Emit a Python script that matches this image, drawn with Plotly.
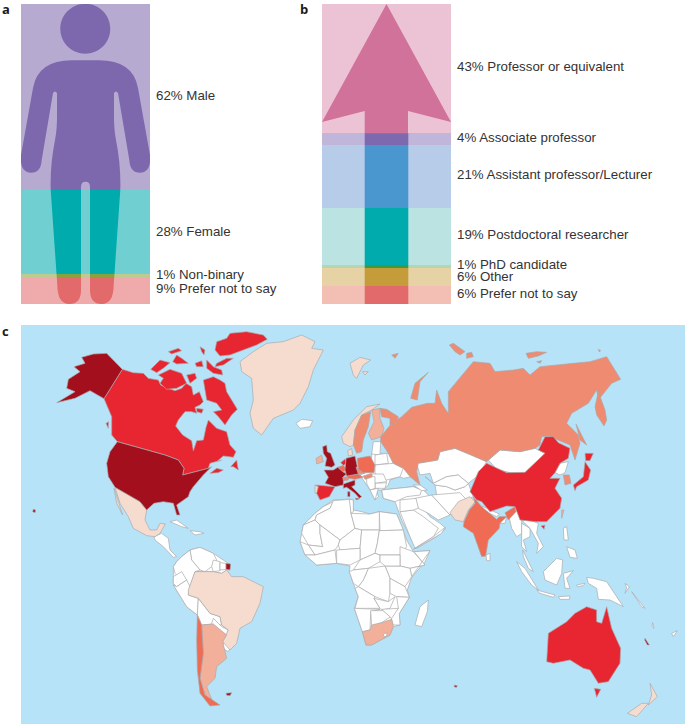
import plotly.graph_objects as go

W, H = 685, 724

# ---------- panel a / b data ----------
gender_labels = ["Male", "Female", "Non-binary", "Prefer not to say"]
gender_values = [62, 28, 1, 9]
gender_colors = ["#7D68AE", "#00ABAE", "#8AA23C", "#E26A6A"]
gender_label_y = [95, 231, 274.5, 288.5]

role_labels = ["Professor or equivalent", "Associate professor", "Assistant professor/Lecturer",
               "Postdoctoral researcher", "PhD candidate", "Other", "Prefer not to say"]
role_values = [43, 4, 21, 19, 1, 6, 6]
role_light = ["#ECC3D4", "#C0B6DA", "#B6CCE8", "#BAE3E1", "#B5D6B0", "#E6D2A4", "#F3BFB5"]
role_dark = ["#D1729B", "#7F69AE", "#4A96CF", "#00ABAE", "#3E9A3E", "#C49C3A", "#E26A6A"]
role_label_y = [66, 137, 174.5, 234.5, 264.5, 276, 293]

# ---------- panel c colours ----------
DARK, RED, ORANGE, SALMON, PEACH, PALE, BLANK = "#A30F1D", "#E82632", "#EF6B54", "#EF8B70", "#F2AF99", "#F6DCCF", "#FFFFFF"
SEA, BORDER = "#B7E3F9", "#ABABAB"

# outline blocks: each has its own origin in map units
WEST, EAST, EUR, AFR, CHN = (0, 0), (1020, 0), (900, 210), (900, 510), (1410, 300)

white_land = [
 # continental masses under the individual countries
 (AFR, [(100,30),(150,27),(160,30),(160,60),(185,65),(210,72),(238,65),(290,72),(305,110),(320,150),(340,185),(390,182),(375,215),(335,262),(322,300),(328,322),(298,370),(300,405),(280,410),(270,435),(215,465),(198,465),(187,425),(163,355),(175,320),(165,295),(160,280),(148,245),(150,228),(110,220),(50,225),(15,195),(0,155),(5,130),(10,105),(45,70),(70,50)]),
 (EAST, [(125,510),(165,505),(220,500),(250,510),(270,530),(290,525),(285,495),(320,500),(345,510),(375,500),(385,490),(400,530),(355,545),(330,578),(300,590),(270,575),(250,565),(270,590),(300,610),(318,625),(290,650),(230,685),(215,660),(185,600),(175,570),(165,545),(130,535)]),
 (EAST, [(95,400),(145,400),(160,430),(190,445),(215,470),(190,475),(180,470),(150,480),(145,495),(135,505),(125,510),(110,510),(115,530),(105,540),(90,510),(70,480),(60,465),(95,450)]),
 (WEST, [(545,710),(570,690),(600,682),(640,700),(692,735),(680,750),(665,760),(640,755),(615,755),(585,755),(565,810),(565,825),(595,835),(630,880),(660,890),(665,915),(685,930),(680,945),(640,912),(605,915),(592,885),(560,860),(520,795),(520,740),(530,725)]),
 (WEST, [(888,310),(905,298),(938,302),(930,320),(900,325)]),
 (WEST, [(462,650),(485,640),(505,655),(510,690),(530,710),(520,712),(490,680),(465,660)]),
 (WEST, [(510,605),(530,600),(565,625),(545,620)]),
 (WEST, [(570,632),(600,635),(612,640),(585,645)]),
 (WEST, [(570,690),(600,682),(640,700),(650,720),(635,740),(615,755),(600,750),(575,720)]),
 (WEST, [(640,720),(660,725),(660,752),(640,755),(635,740)]),
 (WEST, [(660,728),(678,730),(678,748),(660,750)]),
 (WEST, [(545,710),(570,690),(575,720),(600,750),(585,755),(570,800),(555,790),(525,760),(520,740),(530,725)]),
 (WEST, [(520,770),(545,755),(560,780),(530,800),(520,790)]),
 (WEST, [(520,795),(530,800),(560,780),(570,800),(565,825),(595,835),(592,885),(560,860)]),
 (WEST, [(595,835),(630,880),(660,890),(665,915),(640,912),(605,915),(592,885)]),
 (WEST, [(640,895),(665,920),(685,930),(680,945),(650,930),(635,910)]),
 (WEST, [(670,965),(695,975),(685,995),(668,985)]),
 # Africa
 (AFR, [(100,35),(70,50),(45,70),(10,105),(45,90),(50,75),(90,55)]),
 (AFR, [(100,32),(150,28),(153,70),(165,115),(120,150),(60,105),(45,90),(50,75),(90,55)]),
 (AFR, [(148,28),(160,30),(160,65),(153,70)]),
 (AFR, [(153,70),(210,72),(238,65),(238,120),(185,120),(165,115)]),
 (AFR, [(238,65),(290,72),(310,120),(240,122)]),
 (AFR, [(10,105),(45,90),(60,105),(60,130),(68,170),(25,165),(5,130)]),
 (AFR, [(60,105),(120,150),(115,165),(105,180),(45,195),(25,165),(68,170),(60,130)]),
 (AFR, [(0,155),(25,165),(45,195),(15,195)]),
 (AFR, [(120,150),(165,115),(185,120),(180,175),(120,180),(115,165)]),
 (AFR, [(185,120),(238,120),(232,160),(225,190),(180,210),(180,175)]),
 (AFR, [(238,122),(310,120),(320,170),(300,195),(240,195),(225,190),(232,160)]),
 (AFR, [(110,180),(180,175),(180,210),(150,225),(110,220)]),
 (AFR, [(45,195),(105,180),(110,220),(50,225),(15,195)]),
 (AFR, [(300,170),(340,185),(375,225),(330,235),(300,228),(300,195)]),
 (AFR, [(342,185),(390,182),(335,260),(330,235),(375,225)]),
 (AFR, [(300,228),(330,235),(335,260),(315,290),(270,265),(255,228)]),
 (AFR, [(180,210),(225,190),(240,195),(240,215),(205,235),(160,240)]),
 (AFR, [(240,195),(300,195),(300,228),(255,228),(240,215)]),
 (AFR, [(205,235),(255,228),(270,265),(270,310),(265,335),(225,320),(175,290),(190,270)]),
 (AFR, [(148,245),(160,240),(205,235),(190,270),(175,290),(160,280)]),
 (AFR, [(165,295),(175,290),(225,320),(222,325),(240,355),(165,355),(175,320)]),
 (AFR, [(222,325),(265,335),(285,320),(270,355),(245,360),(240,355)]),
 (AFR, [(270,265),(315,290),(328,322),(290,320),(270,310)]),
 (AFR, [(290,320),(328,322),(298,370),(300,405),(280,405),(272,380),(295,355)]),
 (AFR, [(163,355),(240,358),(212,365),(210,420),(187,425)]),
 (AFR, [(212,362),(250,362),(272,380),(245,398),(215,408)]),
 (AFR, [(245,358),(295,355),(275,385)]),
 # Middle East
 (AFR, [(300,65),(340,60),(370,80),(415,115),(400,140),(345,175),(330,140)]),
 (AFR, [(340,178),(400,140),(435,112),(425,130),(390,150)]),
 (AFR, [(345,25),(395,15),(450,75),(415,90),(385,70),(355,55)]),
 (AFR, [(395,15),(480,8),(498,28),(450,75)]),
 (AFR, [(300,30),(348,25),(355,55),(340,60),(300,65)]),
 # Eastern Europe and central Asia
 (EAST, [(100,365),(122,365),(120,405),(95,402)]),
 (EAST, [(105,405),(140,400),(145,430),(105,435)]),
 (EAST, [(105,435),(160,430),(190,445),(180,470),(140,480),(105,462)]),
 (EAST, [(95,462),(130,462),(140,485),(105,490)]),
 (EAST, [(105,490),(140,488),(135,505),(105,505)]),
 (EAST, [(80,470),(105,470),(105,505),(90,510),(80,490)]),
 (EAST, [(90,510),(115,505),(105,540)]),
 (EAST, [(125,510),(165,505),(220,500),(245,510),(240,525),(200,530),(165,545),(130,535)]),
 (EAST, [(220,495),(240,495),(262,510),(245,512)]),
 (EAST, [(230,430),(293,420),(300,395),(345,385),(395,405),(440,425),(410,470),(385,490),(355,465),(320,470),(280,490),(270,460),(240,465)]),
 (EAST, [(255,470),(280,490),(320,470),(355,465),(385,490),(375,500),(345,510),(320,500),(285,495)]),
 (EAST, [(445,420),(480,390),(540,395),(585,385),(615,400),(590,425),(555,460),(510,458),(470,448)]),
 (EAST, [(425,558),(478,582),(470,590),(430,572)]),
 # South-east Asia and islands
 (EAST, [(478,590),(500,590),(495,610),(480,610)]),
 (EAST, [(505,580),(530,570),(545,600),(545,640),(530,650),(515,625)]),
 (EAST, [(545,610),(570,625),(570,650),(550,660),(560,695),(545,680)]),
 (EAST, [(545,600),(570,600),(595,610),(590,640),(610,680),(590,700),(595,670),(570,625)]),
 (EAST, [(438,705),(450,700),(450,722),(440,722)]),
 (EAST, [(548,690),(565,725),(580,755),(565,745),(550,710)]),
 (EAST, [(530,725),(555,745),(595,810),(575,795),(545,755)]),
 (EAST, [(590,810),(645,825),(640,832),(600,820)]),
 (EAST, [(610,755),(650,715),(668,720),(665,760),(650,795),(615,780)]),
 (EAST, [(670,760),(700,752),(680,775),(690,805),(675,805)]),
 (EAST, [(670,625),(680,620),(685,660),(672,660)]),
 (EAST, [(680,680),(705,690),(712,715),(690,712)]),
 (EAST, [(710,795),(735,790),(730,797),(712,800)]),
 (EAST, [(655,830),(690,828),(688,838),(660,838)]),
 (EAST, [(740,772),(760,775),(800,785),(830,830),(850,860),(810,840),(775,838),(770,805),(745,790)]),
 (EAST, [(855,790),(868,800),(855,820),(860,803)]),
 (EAST, [(875,815),(915,865),(905,860)]),
 (EAST, [(938,908),(942,925),(936,920)]),
 (EAST, [(995,940),(1012,932),(1000,950)]),
 (EAST, [(225,915),(240,860),(265,840),(262,875),(245,920)]),
 (CHN, [(270,130),(295,125),(285,158),(270,165),(255,158)]),
]

pale_land = [
 (WEST, [(720,125),(760,95),(800,70),(850,65),(905,45),(945,65),(935,85),(970,90),(940,150),(925,200),(900,250),(880,270),(820,295),(785,345),(760,325),(750,280),(760,240),(755,175),(725,155)]),
 (WEST, [(345,502),(375,518),(420,545),(440,570),(435,600),(450,630),(470,630),(480,610),(496,612),(480,640),(465,650),(440,647),(400,625),(385,590),(360,550)]),
 (WEST, [(342,505),(360,560),(368,585),(350,550)]),
 (WEST, [(585,755),(615,755),(640,755),(665,760),(680,750),(695,770),(730,770),(790,800),(780,850),(755,905),(720,925),(710,970),(690,990),(668,965),(685,930),(665,915),(660,890),(630,880),(595,835),(565,825),(565,810)]),
 (EUR, [(45,285),(55,290),(52,310),(45,310)]),
 (EUR, [(125,140),(160,90),(200,50),(240,42),(215,60),(185,75),(165,120),(160,165),(150,170),(130,160)]),
 (EUR, [(143,182),(155,175),(158,195),(145,198)]),
 (EAST, [(30,130),(60,112),(92,120),(70,135),(50,175),(40,165)]),
 (EAST, [(68,155),(85,155),(75,165)]),
 (EAST, [(330,578),(355,545),(390,530),(405,545),(385,570),(370,605),(345,600)]),
 (EAST, [(862,1180),(905,1150),(925,1150),(890,1190)]),
 (EAST, [(930,1090),(952,1130),(925,1155),(935,1125)]),
]

peach_land = [
 (WEST, [(605,915),(640,912),(680,945),(668,965),(680,1015),(650,1040),(645,1075),(620,1100),(640,1150),(615,1125),(600,1075),(610,1000)]),
 (EUR, [(48,205),(65,195),(70,215),(50,222)]),
 (EUR, [(215,60),(240,55),(240,85),(252,115),(245,140),(215,150),(205,130),(222,95)]),
 (AFR, [(187,425),(210,420),(215,405),(245,398),(275,388),(280,410),(270,435),(215,465),(198,465)]),
 (CHN, [(275,270),(282,270),(275,295)]),
]

blank_top = [
 (AFR, [(252,430),(262,430),(258,440),(250,438)]),
]

salmon_land = [
 (EAST, [(122,350),(155,310),(185,290),(215,262),(262,250),(285,250),(290,210),(305,250),(318,270),(325,280),(325,215),(350,185),(400,125),(450,130),(465,155),(520,150),(550,145),(570,165),(600,140),(700,130),(750,125),(800,110),(830,160),(842,178),(815,190),(775,240),(770,210),(745,250),(695,280),(680,310),(715,345),(720,370),(705,420),(690,375),(625,348),(605,350),(600,375),(585,385),(540,395),(480,390),(440,425),(395,405),(345,385),(300,395),(293,420),(235,430),(230,455),(240,495),(210,470),(190,445),(160,430),(145,400),(122,365)]),
 (EAST, [(765,260),(775,215),(795,270),(800,300),(792,318),(770,285)]),
 (EAST, [(212,235),(225,190),(265,157),(240,185),(232,240)]),
 (EAST, [(155,105),(175,100),(165,115)]),
 (EAST, [(328,75),(340,70),(375,95),(360,105),(345,95)]),
 (EAST, [(380,100),(395,97),(400,110),(380,115)]),
 (EAST, [(558,100),(590,95),(620,97),(595,108),(565,115)]),
 (EAST, [(590,125),(605,122),(600,130)]),
 (EAST, [(775,88),(782,92),(778,96)]),
 (EAST, [(708,312),(740,375),(720,360)]),
 (EAST, [(120,265),(140,268),(175,290),(170,310),(150,315),(150,295),(125,290)]),
 (EUR, [(160,165),(165,120),(185,75),(212,65),(205,110),(190,150),(185,185),(170,190)]),
 (EUR, [(168,232),(190,240),(195,250),(175,252)]),
 (EUR, [(128,262),(145,260),(145,270),(130,272)]),
 (EUR, [(190,258),(215,250),(215,262),(195,268)]),
 (CHN, [(280,165),(298,165),(303,190),(285,195)]),
]

orange_land = [
 (WEST, [(592,885),(605,915),(610,1000),(600,1075),(615,1125),(660,1155),(630,1158),(600,1120),(592,1050),(590,960)]),
 (EUR, [(113,232),(130,226),(142,240),(128,245)]),
 (EUR, [(172,205),(210,198),(225,225),(222,248),(190,248),(175,238)]),
 (EUR, [(140,258),(175,252),(190,262),(165,268),(145,265)]),
 (EAST, [(400,530),(425,560),(470,598),(478,590),(500,590),(480,610),(478,625),(445,660),(437,708),(425,710),(400,640),(370,620),(372,605),(388,570),(405,550)]),
 (EAST, [(495,578),(525,560),(528,575),(505,600),(500,590)]),
]

red_land = [
 (WEST, [(367,148),(400,158),(430,160),(445,175),(475,180),(482,195),(505,205),(525,212),(545,205),(558,190),(575,200),(580,225),(598,215),(610,245),(600,255),(585,262),(590,280),(575,275),(555,275),(535,300),(527,318),(548,345),(575,362),(580,392),(590,362),(610,360),(618,322),(625,300),(650,325),(680,335),(690,375),(708,395),(700,412),(670,408),(650,425),(665,420),(630,430),(625,445),(600,452),(548,465),(552,445),(535,420),(495,405),(352,365),(335,345),(335,290),(312,236)]),
 (WEST, [(692,440),(710,420),(715,450),(700,440)]),
 (WEST, [(630,460),(655,458),(670,450),(650,445)]),
 (WEST, [(318,310),(326,305),(325,325)]),
 (WEST, [(610,180),(640,170),(660,180),(675,190),(680,215),(695,240),(712,268),(695,285),(675,315),(655,290),(640,275),(665,270),(650,250),(620,240),(615,205)]),
 (WEST, [(645,90),(650,65),(680,55),(690,40),(740,35),(790,45),(802,58),(770,75),(730,90),(690,105),(660,108)]),
 (WEST, [(650,130),(680,115),(700,115),(670,135),(645,140)]),
 (WEST, [(585,130),(605,122),(610,140),(590,140)]),
 (WEST, [(452,148),(480,120),(510,128),(490,145),(470,158)]),
 (WEST, [(475,165),(510,148),(545,160),(560,190),(530,205),(500,208),(480,190),(490,175)]),
 (WEST, [(505,95),(535,85),(545,92),(515,102)]),
 (WEST, [(518,125),(530,105),(545,115),(565,130),(530,132)]),
 (WEST, [(560,165),(585,160),(590,175),(570,190)]),
 (WEST, [(590,265),(610,268),(605,280),(590,275)]),
 (WEST, [(600,80),(615,90),(612,105),(605,95)]),
 (WEST, [(620,120),(640,140),(665,150),(668,165),(640,160),(620,145)]),
 (EUR, [(47,285),(105,290),(88,320),(60,330),(50,310),(55,290)]),
 (EUR, [(122,218),(135,207),(138,222),(130,226)]),
 (CHN, [(0,215),(25,155),(50,130),(85,145),(110,158),(165,157),(205,120),(225,100),(205,90),(225,50),(250,50),(265,68),(300,85),(295,115),(270,130),(255,158),(240,175),(270,175),(255,205),(275,235),(270,265),(230,305),(195,305),(150,300),(135,260),(110,258),(60,275),(35,245),(20,240)]),
 (CHN, [(213,318),(225,315),(222,328)]),
 (CHN, [(345,125),(362,150),(355,180),(320,200),(315,212),(310,195),(340,170)]),
 (CHN, [(345,100),(370,100),(360,122),(347,122)]),
 (EAST, [(620,1025),(625,940),(680,905),(705,880),(740,860),(770,870),(770,905),(785,910),(800,860),(815,925),(842,985),(840,1030),(805,1085),(775,1090),(750,1050),(730,1045),(690,1020),(640,1030)]),
 (EAST, [(763,1105),(782,1108),(770,1132)]),
]

dark_land = [
 (WEST, [(367,148),(320,100),(280,102),(245,112),(255,130),(222,140),(240,155),(205,178),(200,205),(225,215),(170,248),(225,235),(270,212),(312,236)]),
 (WEST, [(352,365),(495,405),(535,420),(552,445),(548,465),(600,452),(625,445),(635,440),(610,465),(580,500),(570,515),(565,530),(530,555),(540,585),(530,585),(520,550),(490,545),(462,550),(440,570),(420,545),(375,518),(345,502),(325,470),(320,430),(330,395)]),
 (WEST, [(100,568),(107,570),(105,578),(98,575)]),
 (WEST, [(678,730),(692,732),(690,750),(678,748)]),
 (WEST, [(678,1120),(695,1118),(690,1127),(680,1126)]),
 (EUR, [(68,170),(80,165),(82,185),(92,190),(105,225),(95,232),(75,228),(80,205),(70,190)]),
 (EUR, [(72,240),(100,240),(113,232),(128,245),(140,252),(128,262),(130,272),(130,285),(105,290),(75,280),(85,262)]),
 (EUR, [(138,205),(165,198),(172,230),(168,232),(175,252),(140,258),(135,240)]),
 (EUR, [(130,282),(165,270),(165,285),(155,290),(185,320),(178,325),(165,310),(140,292),(130,295)]),
 (EUR, [(143,305),(150,305),(150,320),(143,320)]),
 (EUR, [(165,325),(180,325),(170,330)]),
 (EAST, [(915,955),(928,975),(922,975),(914,960)]),
 (EAST, [(343,1095),(352,1097),(350,1102),(343,1101)]),
]

map_layers = [(white_land, BLANK), (pale_land, PALE), (peach_land, PEACH), (blank_top, BLANK), (salmon_land, SALMON),
              (orange_land, ORANGE), (red_land, RED), (dark_land, DARK)]

fig = go.Figure()

# panel a: stacked bands
base = 0
for lab, val, col in zip(gender_labels, gender_values, gender_colors):
    fig.add_bar(x=[0.5], y=[val], base=[base], width=[1], marker=dict(color=col, line_width=0),
                name=lab, xaxis="x", yaxis="y", hoverinfo="name+y")
    base += val

# panel b: light full-width bands, dark central stem (top band's stem is part of the arrow)
base = 0
for i, (lab, val, lc, dc) in enumerate(zip(role_labels, role_values, role_light, role_dark)):
    fig.add_bar(x=[0.5], y=[val], base=[base], width=[1], marker=dict(color=lc, line_width=0),
                name=lab, xaxis="x2", yaxis="y2", hoverinfo="name+y")
    if i > 0:
        fig.add_bar(x=[0.5], y=[val], base=[base], width=[0.338], marker=dict(color=dc, line_width=0),
                    name=lab, xaxis="x2", yaxis="y2", hoverinfo="skip")
    base += val

# panel c: countries
for group, colour in map_layers:
    for (ox, oy), pts in group:
        xs = [p[0] + ox for p in pts] + [pts[0][0] + ox]
        ys = [p[1] + oy for p in pts] + [pts[0][1] + oy]
        fig.add_scatter(x=xs, y=ys, mode="lines", fill="toself", fillcolor=colour,
                        line=dict(color=BORDER, width=0.7), xaxis="x3", yaxis="y3", hoverinfo="skip")


def P(x, y):
    return f"{x / W:.5f},{1 - y / H:.5f}"


# figure silhouette (page pixels), left half, mirrored around x = 85.5
start = (85.5, 60.3)
left = [(None, (72, 60.3)), ((38, 60.3), (33, 88)), (None, (21, 155)), ((19.5, 172.5), (31, 172.7)),
        ((41, 172.7), (41.7, 160)), (None, (53, 93)), ((55, 90), (57, 93)), (None, (57, 117)),
        ((57, 130), (55, 140)), ((50, 165), (50.7, 190)), (None, (57.3, 285)), ((57.5, 304), (69.3, 304)),
        ((81, 304), (81, 290)), (None, (81, 187)), ((81, 181.7), (85.5, 181.7))]
path = "M" + P(*start)
for c, e in left:
    path += ("Q" + P(*c) + " " + P(*e)) if c else ("L" + P(*e))
pts_chain = [start] + [e for _, e in left]
for i in range(len(left) - 1, -1, -1):
    c, _ = left[i]
    e = pts_chain[i]
    ex = (171 - e[0], e[1])
    path += ("Q" + P(171 - c[0], c[1]) + " " + P(*ex)) if c else ("L" + P(*ex))
path += "Z"
cx, cy, r, k = 85.3, 28.7, 25, 13.8
head = ("M" + P(cx - r, cy) + "C" + P(cx - r, cy - k) + " " + P(cx - k, cy - r) + " " + P(cx, cy - r)
        + "C" + P(cx + k, cy - r) + " " + P(cx + r, cy - k) + " " + P(cx + r, cy)
        + "C" + P(cx + r, cy + k) + " " + P(cx + k, cy + r) + " " + P(cx, cy + r)
        + "C" + P(cx - k, cy + r) + " " + P(cx - r, cy + k) + " " + P(cx - r, cy) + "Z")
frame = "M" + P(21, 4) + "L" + P(150, 4) + "L" + P(150, 304) + "L" + P(21, 304) + "Z"

arrow = "M" + "L".join(P(*p) for p in [(386.5, 4), (451, 122), (408, 111), (408, 133.2), (364.7, 133.2), (364.7, 111), (322, 122)]) + "Z"

shapes = [
    dict(type="path", xref="paper", yref="paper", path=frame + head + path, fillrule="evenodd",
         fillcolor="rgba(255,255,255,0.44)", line_width=0),
    dict(type="path", xref="paper", yref="paper", path=arrow, fillcolor=role_dark[0], line_width=0),
]

annotations = []
for val, lab, yy in zip(gender_values, gender_labels, gender_label_y):
    annotations.append(dict(text=f"{val}% {lab}", x=154 / W, y=1 - yy / H, xref="paper", yref="paper",
                            xanchor="left", yanchor="middle", showarrow=False))
for val, lab, yy in zip(role_values, role_labels, role_label_y):
    annotations.append(dict(text=f"{val}% {lab}", x=455 / W, y=1 - yy / H, xref="paper", yref="paper",
                            xanchor="left", yanchor="middle", showarrow=False))
for letter, xx, yy in [("a", 0, 9), ("b", 298, 9), ("c", 0, 331)]:
    annotations.append(dict(text=f"<b>{letter}</b>", x=xx / W, y=1 - yy / H, xref="paper", yref="paper",
                            xanchor="left", yanchor="middle", showarrow=False,
                            font=dict(family="Open Sans", size=13, color="#1a1a1a")))

ax = dict(showgrid=False, zeroline=False, showticklabels=False, ticks="", showline=False, fixedrange=True)
fig.update_layout(
    width=W, height=H, margin=dict(l=0, r=0, t=0, b=0), autosize=False,
    barmode="overlay", showlegend=False, plot_bgcolor="white", paper_bgcolor="white",
    font=dict(family="Liberation Sans", size=13.3, color="#333333"),
    shapes=shapes, annotations=annotations,
    xaxis=dict(ax, domain=[21 / W, 150 / W], range=[0, 1]),
    yaxis=dict(ax, domain=[1 - 304 / H, 1 - 4 / H], range=[100, 0]),
    xaxis2=dict(ax, domain=[322 / W, 451 / W], range=[0, 1], anchor="y2"),
    yaxis2=dict(ax, domain=[1 - 304 / H, 1 - 4 / H], range=[100, 0], anchor="x2"),
    xaxis3=dict(ax, domain=[21 / W, 1], range=[63, 2055], anchor="y3"),
    yaxis3=dict(ax, domain=[0, 1 - 325 / H], range=[1212, 15], anchor="x3"),
)
# sea background drawn beneath the map traces
fig.add_shape(type="rect", xref="x3 domain", yref="y3 domain", x0=0, x1=1, y0=0, y1=1,
              fillcolor=SEA, line_width=0, layer="below")

# the page's default body margin would push the 685x724 figure off its window
fig.write_html("out.html", config=dict(displayModeBar=False),
               post_script="document.body.style.margin='0';document.documentElement.style.overflow='hidden';")
